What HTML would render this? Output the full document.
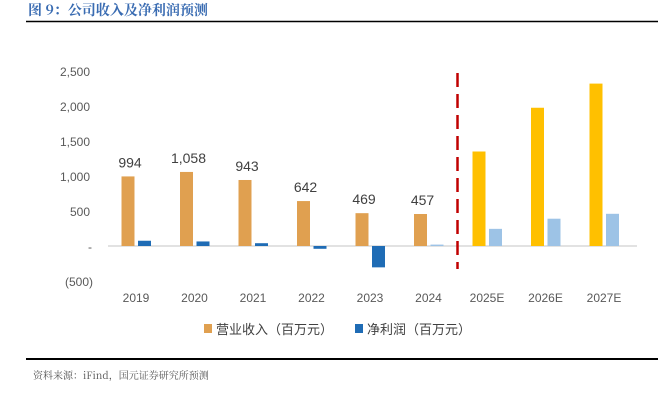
<!DOCTYPE html>
<html><head><meta charset="utf-8">
<style>
body{margin:0;background:#fff;width:659px;height:400px;overflow:hidden;font-family:"Liberation Sans","Noto Sans CJK SC",sans-serif;}
</style></head>
<body>
<svg width="659" height="400" xmlns="http://www.w3.org/2000/svg" id="chart">
<text x="28" y="15" font-size="14" font-weight="bold" fill="#3A6CB2" font-family="'Noto Serif CJK SC','Liberation Serif',serif">图 9：公司收入及净利润预测</text>
<line x1="26" y1="21.5" x2="658" y2="21.5" stroke="#000" stroke-width="1.5"/>
<g id="plot"></g>
<g>
<rect x="204" y="324" width="8" height="9" fill="#E0A050"/>
<text x="216" y="334" font-size="13" fill="#404040">营业收入（百万元）</text>
<rect x="355" y="324" width="8" height="9" fill="#1F6CB5"/>
<text x="367" y="334" font-size="13" fill="#404040">净利润（百万元）</text>
</g>
<line x1="26" y1="359" x2="658" y2="359" stroke="#000" stroke-width="2"/>
<text x="33" y="379" font-size="10" fill="#555" font-family="'Noto Serif CJK SC','Liberation Serif',serif">资料来源：iFind，国元证券研究所预测</text>
</svg>
<script>
const categories=["2019","2020","2021","2022","2023","2024","2025E","2026E","2027E"];
const revenue=[994,1058,943,642,469,457,1350,1975,2320];
const profit=[75,65,40,-40,-305,20,245,390,460];
const revLabels=["994","1,058","943","642","469","457"];
const forecast=[false,false,false,false,false,false,true,true,true];
const yTicks=[2500,2000,1500,1000,500,0,-500];
const yTickLabels=["2,500","2,000","1,500","1,000","500","-","(500)"];
const NS="http://www.w3.org/2000/svg";
const g=document.getElementById('plot');
const y0=246,pxPer=175/2500;
function y(v){return y0-v*pxPer;}
function x(i){return 136+i*58.5;}
function el(t,a){const e=document.createElementNS(NS,t);for(const k in a)e.setAttribute(k,a[k]);g.appendChild(e);return e;}
yTicks.forEach((v,i)=>{const t=el('text',{x:i==6?93:(v===0?92:90),y:y(v)+5,'font-size':12,fill:'#595959','text-anchor':'end'});t.textContent=yTickLabels[i];

});
const ax=el('line',{x1:108,x2:637,y1:y0,y2:y0,stroke:'#d9d9d9','stroke-width':1.5});


categories.forEach((c,i)=>{
 const cx=x(i);
 const r=revenue[i];
 const b=el('rect',{x:cx-14.5,y:y(r),width:13,height:y0-y(r),fill:forecast[i]?'#FFC000':'#E0A050'});
 
 
 const p=profit[i];
 const pb=el('rect',{x:cx+2,y:Math.min(y(p),y0),width:13,height:Math.abs(y0-y(p)),fill:forecast[i]?'#9DC3E6':(i==5?'#9DC3E6':'#1F6CB5')});
 
 
 const t=el('text',{x:cx,y:302,'font-size':12,fill:'#595959','text-anchor':'middle'});t.textContent=c;
 
 
 if(i<revLabels.length){const l=el('text',{x:cx-6,y:y(r)-9,'font-size':14,fill:'#404040','text-anchor':'middle'});l.textContent=revLabels[i];
 
 }
});
const d=el('line',{x1:457.5,x2:457.5,y1:73,y2:269,stroke:'#C00000','stroke-width':2.5,'stroke-dasharray':'14,7'});


</script>
</body></html>
